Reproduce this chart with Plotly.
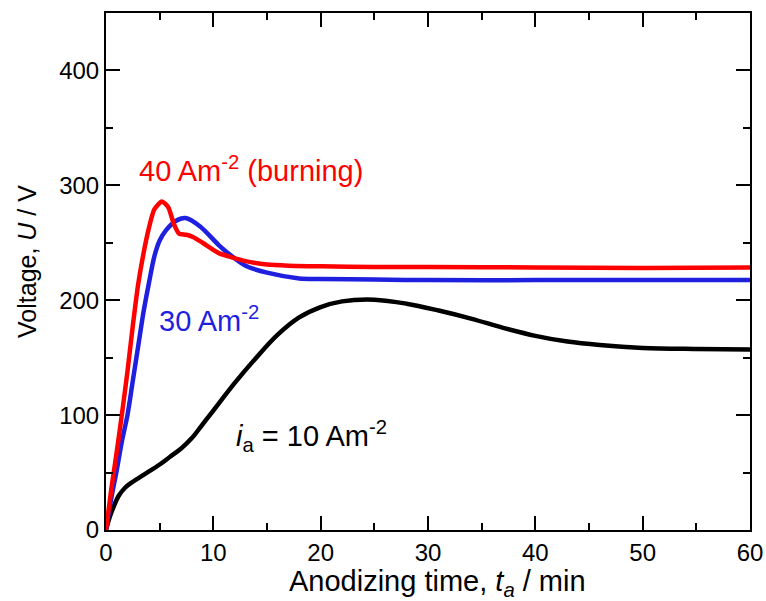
import plotly.graph_objects as go

# Data
t_10 = [0, 0.3, 0.7, 1.2, 1.8, 2.5, 3.5, 5.0, 6.0, 7.0, 8.0, 9.0, 10.0, 12.0, 14.0, 16.0, 18.0,
        20.0, 22.0, 25.0, 28.0, 31.0, 34.0, 37.0, 40.0, 43.0, 46.0, 50.0, 55.0, 60.0]
u_10 = [0, 10, 20, 30, 37, 42, 48, 57, 64, 71, 80, 92, 104, 128, 150, 170, 185,
        194, 199, 200.5, 197, 191, 184, 176, 169, 164, 161, 158.5, 157.5, 157]

t_30 = [0, 0.5, 1.0, 1.5, 2.0, 2.5, 3.0, 3.5, 4.0, 4.5, 5.0, 5.6, 6.5, 7.4, 8.8, 10.5, 11.5, 13, 15, 18, 20, 25, 30, 40, 50, 60]
u_30 = [0, 28, 52, 78, 100, 130, 160, 190, 215, 238, 252, 261, 269, 271.5, 264, 248, 240, 230, 224, 219, 218.5, 218, 217.5, 217.5, 217.5, 217.5]

t_40 = [0, 0.5, 1.0, 1.5, 2.0, 2.5, 3.0, 3.5, 4.0, 4.5, 5.2, 5.8, 6.3, 6.8, 7.5, 8.1, 9, 10.5, 11.5, 13, 15, 17, 20, 25, 30, 40, 50, 60]
u_40 = [0, 36, 68, 102, 138, 178, 214, 241, 263, 279, 286, 281, 267, 258, 257, 255, 250, 241, 238, 234, 231, 230, 229.5, 229, 229, 228.5, 228, 228.5]

x_ticks = [0, 10, 20, 30, 40, 50, 60]
y_ticks = [0, 100, 200, 300, 400]

FONT = "Arial, Liberation Sans, Helvetica, sans-serif"

fig = go.Figure()
fig.add_trace(go.Scatter(x=t_10, y=u_10, mode="lines", line=dict(color="black", width=4.5, shape="spline", smoothing=1.0)))
fig.add_trace(go.Scatter(x=t_30, y=u_30, mode="lines", line=dict(color="#1f1fe0", width=4.5, shape="spline", smoothing=0.8)))
fig.add_trace(go.Scatter(x=t_40, y=u_40, mode="lines", line=dict(color="#ff0000", width=4.5, shape="spline", smoothing=0.6)))

fig.add_annotation(x=2.9, y=314, text="40 Am<sup>-2</sup> (burning)", showarrow=False,
                   xanchor="left", yanchor="middle", font=dict(color="#ff0000", size=29, family=FONT))
fig.add_annotation(x=4.75, y=184, text="30 Am<sup>-2</sup>", showarrow=False,
                   xanchor="left", yanchor="middle", font=dict(color="#1f1fe0", size=29, family=FONT))
fig.add_annotation(x=11.9, y=82, text="<i>i</i><sub>a</sub> = 10 Am<sup>-2</sup>", showarrow=False,
                   xanchor="left", yanchor="middle", font=dict(color="black", size=29, family=FONT))

# axis titles
fig.add_annotation(x=0.514, y=-0.103, xref="paper", yref="paper", text="Anodizing time, <i>t<sub>a</sub></i> / min",
                   showarrow=False, xanchor="center", yanchor="middle", font=dict(size=29, family=FONT, color="black"))
fig.add_annotation(x=-0.123, y=0.52, xref="paper", yref="paper", text="Voltage, <i>U</i> / V", textangle=-90,
                   showarrow=False, xanchor="center", yanchor="middle", font=dict(size=25, family=FONT, color="black"))

axis_common = dict(showgrid=False, zeroline=False, showline=True, linecolor="black", linewidth=2,
                   mirror="ticks", ticks="inside", ticklen=14, tickwidth=2, tickcolor="black", automargin=False,
                   tickfont=dict(size=24, family=FONT, color="black"))

fig.update_xaxes(range=[0, 60], tickvals=x_ticks, ticktext=[str(v) for v in x_ticks],
                 minor=dict(ticks="inside", ticklen=7, tickwidth=2, tickcolor="black", dtick=5, tick0=0),
                 **axis_common)
fig.update_yaxes(range=[0, 450], tickvals=y_ticks, ticktext=[str(v) for v in y_ticks],
                 minor=dict(ticks="inside", ticklen=7, tickwidth=2, tickcolor="black", dtick=50, tick0=0),
                 **axis_common)

fig.update_layout(width=766, height=601, margin=dict(l=106, r=16, t=13, b=71),
                  plot_bgcolor="white", paper_bgcolor="white", showlegend=False)

# remove the browser's default page margin so the figure fills the window exactly
fig.write_html("out.html", config={"displayModeBar": False},
               post_script="document.body.style.margin='0';document.body.style.overflow='hidden';")
